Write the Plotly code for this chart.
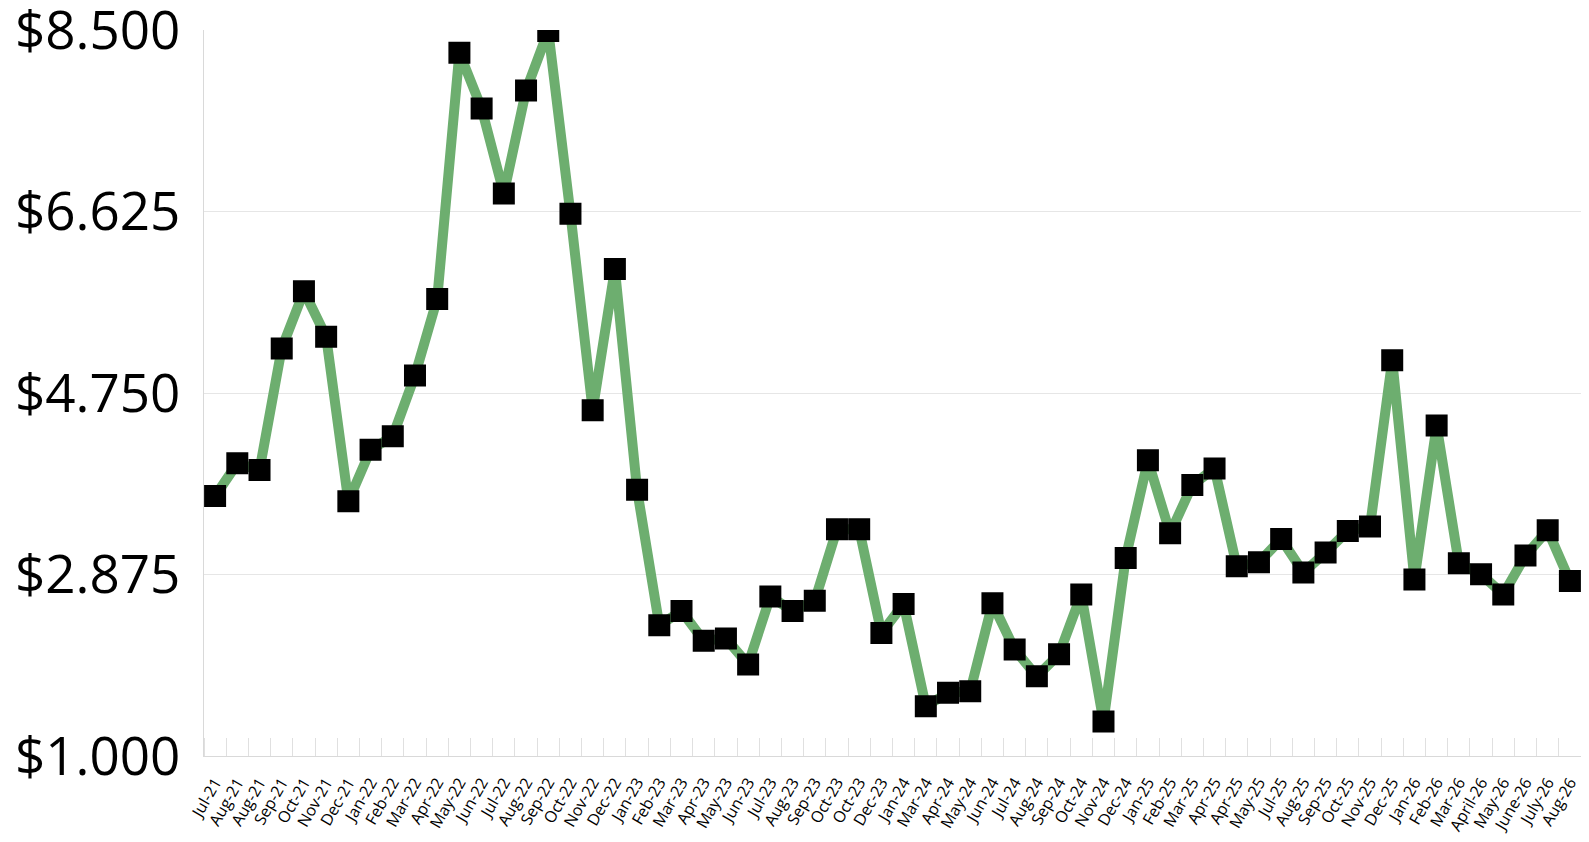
import plotly.graph_objects as go

# monthly labels (duplicates kept as in the source sheet)
months = [
    "Jul-21", "Aug-21", "Aug-21", "Sep-21", "Oct-21", "Nov-21", "Dec-21",
    "Jan-22", "Feb-22", "Mar-22", "Apr-22", "May-22", "Jun-22", "Jul-22",
    "Aug-22", "Sep-22", "Oct-22", "Nov-22", "Dec-22",
    "Jan-23", "Feb-23", "Mar-23", "Apr-23", "May-23", "Jun-23", "Jul-23",
    "Aug-23", "Sep-23", "Oct-23", "Oct-23", "Dec-23",
    "Jan-24", "Mar-24", "Apr-24", "May-24", "Jun-24", "Jul-24", "Aug-24",
    "Sep-24", "Oct-24", "Nov-24", "Dec-24",
    "Jan-25", "Feb-25", "Mar-25", "Apr-25", "Apr-25", "May-25", "Jul-25",
    "Aug-25", "Sep-25", "Oct-25", "Nov-25", "Dec-25",
    "Jan-26", "Feb-26", "Mar-26", "April-26", "May-26", "June-26",
    "July-26", "Aug-26",
]

prices = [
    3.685, 4.023, 3.954, 5.211, 5.801, 5.332, 3.632,
    4.163, 4.303, 4.931, 5.722, 8.265, 7.689, 6.811,
    7.875, 8.49, 6.602, 4.572, 6.031,
    3.751, 2.351, 2.498, 2.190, 2.215, 1.946, 2.648,
    2.498, 2.603, 3.342, 3.342, 2.271,
    2.571, 1.513, 1.653, 1.670, 2.578, 2.100, 1.823,
    2.051, 2.669, 1.356, 3.046,
    4.054, 3.300, 3.800, 3.971, 2.959, 3.001, 3.242,
    2.896, 3.101, 3.325, 3.370, 5.088,
    2.823, 4.413, 2.990, 2.878, 2.669, 3.070,
    3.332, 2.808,
]

y_ticks = [1.0, 2.875, 4.75, 6.625, 8.5]
y_labels = ["$%.3f" % v for v in y_ticks]

x_pos = list(range(len(months)))

fig = go.Figure()
fig.add_trace(
    go.Scatter(
        x=x_pos,
        y=prices,
        mode="lines+markers",
        line=dict(color="#6DAE6F", width=10),
        marker=dict(
            symbol="square",
            size=18,
            color="black",
            line=dict(color="black", width=4),
        ),
        showlegend=False,
    )
)

# sized so the page (with its 8px body margin) stays inside the window
fig.update_layout(
    width=1573,
    height=826,
    margin=dict(l=196, r=0, t=22, b=78),
    paper_bgcolor="white",
    plot_bgcolor="white",
    font=dict(family="Open Sans", color="black"),
)

fig.update_xaxes(
    range=[-0.5, len(months) - 0.5],
    tickmode="array",
    tickvals=x_pos,
    ticktext=months,
    tickangle=-60,
    tickfont=dict(size=16),
    ticks="",
    ticklabelstandoff=10,
    ticklabeloverflow="allow",
    automargin=False,
    showgrid=False,
    zeroline=False,
    showline=True,
    linecolor="#d9d9d9",
    linewidth=1,
    minor=dict(
        ticks="inside",
        ticklen=18,
        tickwidth=1,
        tickcolor="#e0e0e0",
        tick0=-0.5,
        dtick=1,
        showgrid=False,
    ),
)

fig.update_yaxes(
    range=[1.0, 8.5],
    tickmode="array",
    tickvals=y_ticks,
    ticktext=y_labels,
    tickfont=dict(size=53),
    ticklabelstandoff=12,
    ticklabeloverflow="allow",
    automargin=False,
    showgrid=True,
    gridcolor="#e6e6e6",
    gridwidth=1,
    zeroline=False,
    showline=True,
    linecolor="#d9d9d9",
    linewidth=1,
)

fig.write_html("out.html")
